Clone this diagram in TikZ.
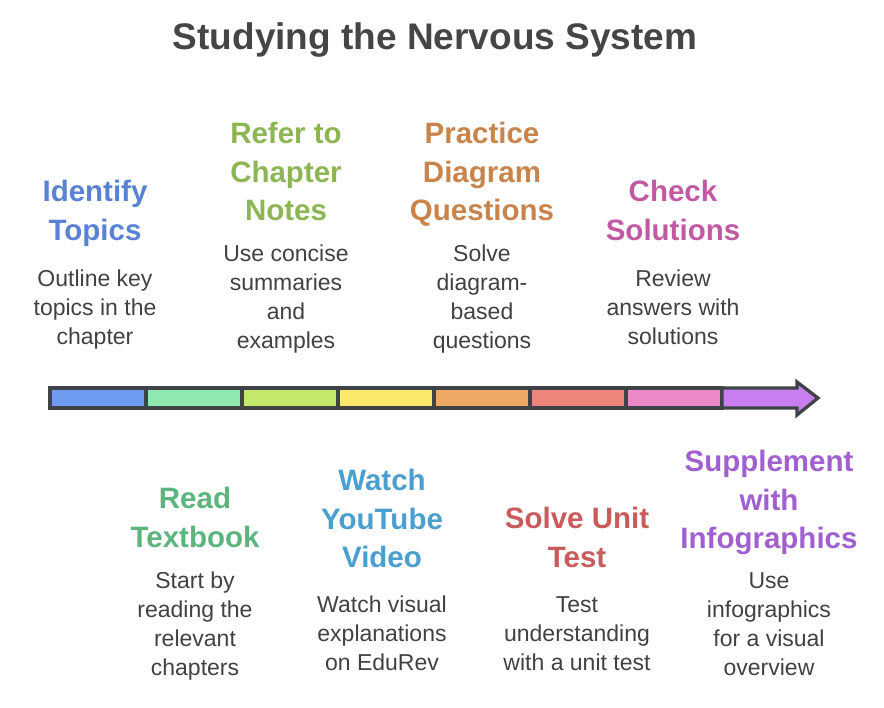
\documentclass[tikz,border=0pt]{standalone}
\usepackage{fontspec}
\setmainfont{Liberation Sans}
\usetikzlibrary{positioning}

\definecolor{titlegray}{HTML}{454545}
\definecolor{bodygray}{HTML}{414141}
\definecolor{barline}{HTML}{3E4348}
\definecolor{identblue}{HTML}{5A82D2}
\definecolor{refgreen}{HTML}{8DB552}
\definecolor{practorange}{HTML}{C8844A}
\definecolor{checkpink}{HTML}{C25AA3}
\definecolor{readgreen}{HTML}{5DB57E}
\definecolor{watchblue}{HTML}{4A9FCF}
\definecolor{solvered}{HTML}{C85C5C}
\definecolor{supppurple}{HTML}{A060D0}
\definecolor{segblue}{HTML}{6F9BF0}
\definecolor{seggreen}{HTML}{8FE8B0}
\definecolor{seglime}{HTML}{C4E86A}
\definecolor{segyellow}{HTML}{FCE86A}
\definecolor{segorange}{HTML}{F0A866}
\definecolor{segsalmon}{HTML}{EE857A}
\definecolor{segpink}{HTML}{EA88C8}
\definecolor{segpurple}{HTML}{C97EEF}

\tikzset{
  head/.style={anchor=north, inner sep=0pt, align=center,
    font=\fontsize{29.5}{38.5}\selectfont\bfseries},
  body/.style={anchor=north, inner sep=0pt, align=center, text=bodygray,
    font=\fontsize{23}{29}\selectfont},
  seg/.style={draw=barline, line width=3.3pt, line join=miter},
}

\begin{document}
\begin{tikzpicture}[x=1pt,y=-1pt]
  \useasboundingbox (0,0) rectangle (884,708);
  \node[font=\fontsize{37}{44}\selectfont\bfseries, text=titlegray] (title) at (435,40) {Studying the Nervous System};

  % timeline bar
  \foreach \i/\c in {0/segblue,1/seggreen,2/seglime,3/segyellow,4/segorange,5/segsalmon,6/segpink}
    \draw[seg, fill=\c] ({50+96*\i},388) rectangle ({146+96*\i},408);
  \draw[seg, fill=segpurple] (722,388) -- (797,388) -- (797,382) -- (818,398)
    -- (797,415) -- (797,408) -- (722,408) -- cycle;

  % steps above the bar
  \node[head, text=identblue] (identify) at (95,180) {Identify\\Topics};
  \node[body] (identifytxt) at (95,270) {Outline key\\topics in the\\chapter};
  \node[head, text=refgreen] (refer) at (286,122) {Refer to\\Chapter\\Notes};
  \node[body] (refertxt) at (286,245) {Use concise\\summaries\\and\\examples};
  \node[head, text=practorange] (practice) at (482,122) {Practice\\Diagram\\Questions};
  \node[body] (practicetxt) at (482,245) {Solve\\diagram-\\based\\questions};
  \node[head, text=checkpink] (check) at (673,180) {Check\\Solutions};
  \node[body] (checktxt) at (673,270) {Review\\answers with\\solutions};

  % steps below the bar
  \node[head, text=readgreen] (read) at (195,487) {Read\\Textbook};
  \node[body] (readtxt) at (195,572) {Start by\\reading the\\relevant\\chapters};
  \node[head, text=watchblue] (watch) at (382,469) {Watch\\YouTube\\Video};
  \node[body] (watchtxt) at (382,596) {Watch visual\\explanations\\on EduRev};
  \node[head, text=solvered] (solve) at (577,507) {Solve Unit\\Test};
  \node[body] (solvetxt) at (577,596) {Test\\understanding\\with a unit test};
  \node[head, text=supppurple] (supplement) at (769,450) {Supplement\\with\\Infographics};
  \node[body] (supplementtxt) at (769,572) {Use\\infographics\\for a visual\\overview};
\end{tikzpicture}
\end{document}
